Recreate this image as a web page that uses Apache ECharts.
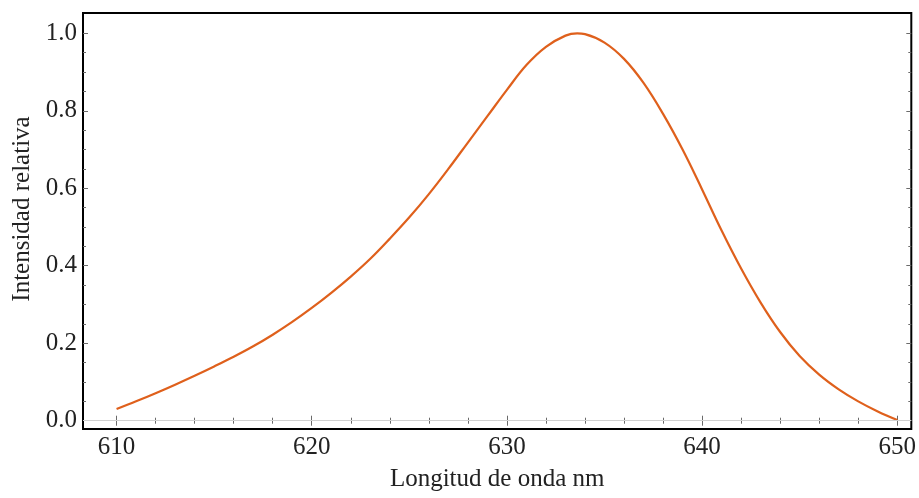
<!DOCTYPE html>
<html>
<head>
<meta charset="utf-8">
<script src="https://cdn.jsdelivr.net/npm/echarts@6/dist/echarts.min.js"></script>
<style>
  html, body { margin: 0; padding: 0; background: #fff; }
  #chart { width: 919px; height: 498px; }
</style>
</head>
<body>
<div id="chart"></div>
<script>
// longitud de onda (nm) e intensidad relativa
const wavelength = [610, 611, 612, 613, 614, 615, 616, 617, 618, 619, 620, 621, 622, 623, 624, 625, 626, 627, 628, 629, 630, 631, 632, 633, 633.6, 634, 635, 636, 637, 638, 639, 640, 641, 642, 643, 644, 645, 646, 647, 648, 649, 650]
const intensity = [0.030, 0.050, 0.071, 0.093, 0.116, 0.140, 0.165, 0.192, 0.222, 0.255, 0.291, 0.330, 0.372, 0.418, 0.470, 0.525, 0.585, 0.650, 0.718, 0.786, 0.854, 0.918, 0.965, 0.994, 1.000, 0.998, 0.976, 0.934, 0.872, 0.792, 0.700, 0.597, 0.491, 0.393, 0.305, 0.229, 0.167, 0.119, 0.081, 0.050, 0.024, 0.002]

// marcas de los ejes
const xMajor = [610, 620, 630, 640, 650]
const xMinor = [612, 614, 616, 618, 622, 624, 626, 628, 632, 634, 636, 638, 642, 644, 646, 648]
const yMajor = [0, 0.2, 0.4, 0.6, 0.8, 1.0]
const yMinor = [0.05, 0.1, 0.15, 0.25, 0.3, 0.35, 0.45, 0.5, 0.55, 0.65, 0.7, 0.75, 0.85, 0.9, 0.95]

const X_MIN = 608.28, X_MAX = 650.72
const Y_MIN = -0.0214, Y_MAX = 1.0524

const FONT = 'Liberation Serif'
const TICK_COLOR = '#6b6b6b'

const chart = echarts.init(document.getElementById('chart'), null, { renderer: 'canvas' })

const xAxisOf = (position, ticks, len, withLabels, withName) => ({
  type: 'value',
  position: position,
  min: X_MIN,
  max: X_MAX,
  name: withName ? 'Longitud de onda nm' : '',
  nameLocation: 'middle',
  nameGap: 38,
  nameTextStyle: { fontFamily: FONT, fontSize: 25, color: '#222' },
  axisLine: { show: false },
  splitLine: { show: false },
  axisTick: { show: true, inside: true, length: len, customValues: ticks, lineStyle: { color: TICK_COLOR, width: 1 } },
  axisLabel: withLabels
    ? { show: true, customValues: xMajor, margin: 6, fontFamily: FONT, fontSize: 25, color: '#222', formatter: v => String(v) }
    : { show: false }
})

const yAxisOf = (position, ticks, len, withLabels, withName) => ({
  type: 'value',
  position: position,
  min: Y_MIN,
  max: Y_MAX,
  name: withName ? 'Intensidad relativa' : '',
  nameLocation: 'middle',
  nameGap: 47,
  nameTextStyle: { fontFamily: FONT, fontSize: 25, color: '#222', padding: [0, 0, 0, 24] },
  axisLine: { show: false },
  splitLine: { show: false },
  axisTick: { show: true, inside: true, length: len, customValues: ticks, lineStyle: { color: TICK_COLOR, width: 1 } },
  axisLabel: withLabels
    ? { show: true, customValues: yMajor, margin: 6, fontFamily: FONT, fontSize: 25, color: '#222', formatter: v => v.toFixed(1) }
    : { show: false }
})

const option = {
  animation: false,
  backgroundColor: '#fff',
  grid: {
    left: 83,
    right: 6,
    top: 13,
    bottom: 69,
    show: true,
    borderColor: '#000',
    borderWidth: 2,
    backgroundColor: 'transparent'
  },
  xAxis: [
    xAxisOf('bottom', xMajor, 5, true, true),
    xAxisOf('bottom', xMinor, 3, false, false),
    xAxisOf('top', xMajor, 5, false, false),
    xAxisOf('top', xMinor, 3, false, false)
  ],
  yAxis: [
    yAxisOf('left', yMajor, 5, true, true),
    yAxisOf('left', yMinor, 3, false, false),
    yAxisOf('right', yMajor, 5, false, false),
    yAxisOf('right', yMinor, 3, false, false)
  ],
  series: [
    {
      type: 'line',
      xAxisIndex: 0,
      yAxisIndex: 0,
      data: wavelength.map((x, i) => [x, intensity[i]]),
      smooth: 0.4,
      showSymbol: false,
      lineStyle: { color: '#df601c', width: 2.2 },
      markLine: {
        silent: true,
        symbol: ['none', 'none'],
        label: { show: false },
        lineStyle: { color: '#d0d0d0', width: 1, type: 'solid' },
        data: [{ yAxis: 0 }]
      }
    }
  ]
}

chart.setOption(option)
</script>
</body>
</html>
